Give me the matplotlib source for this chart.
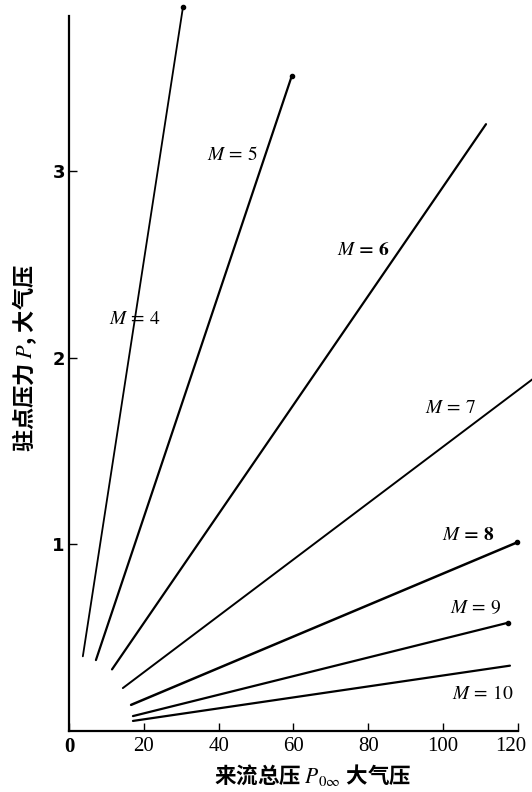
import matplotlib.pyplot as plt

plt.rcParams['font.family'] = ['Noto Sans CJK SC', 'DejaVu Sans']
plt.rcParams['mathtext.fontset'] = 'stix'

# line start / end points: (P0inf, P)
mach = [4, 5, 6, 7, 8, 9, 10]
x_start = [3.7, 7.2, 11.5, 14.4, 16.6, 17.1, 17.1]
y_start = [0.40, 0.38, 0.33, 0.23, 0.14, 0.08, 0.054]
x_end = [30.5, 59.6, 111.5, 125.0, 119.8, 117.4, 117.9]
y_end = [3.88, 3.51, 3.25, 1.90, 1.01, 0.58, 0.35]
widths = [1.3, 1.6, 1.6, 1.4, 1.8, 1.6, 1.6]

# label positions for each Mach number
lab_x = [17.6, 43.6, 78.6, 101.9, 106.7, 108.6, 110.7]
lab_y = [2.21, 3.09, 2.58, 1.73, 1.05, 0.66, 0.20]

xticks = [0, 20, 40, 60, 80, 100, 120]
yticks = [1, 2, 3]

fig = plt.figure(figsize=(5.32, 7.92), dpi=100)
ax = fig.add_axes([0.1297, 0.077, 0.8703, 0.923])

for i in range(len(mach)):
    ax.plot([x_start[i], x_end[i]], [y_start[i], y_end[i]], color='black',
            lw=widths[i], solid_capstyle='round')
    if mach[i] in (4, 5, 8, 9):
        ax.plot(x_end[i], y_end[i], 'o', color='black', ms=3)
    if mach[i] in (6, 8):
        txt = r'$\mathbf{\mathit{M}}\,\mathbf{=}\,\mathbf{%d}$' % mach[i]
    else:
        txt = r'$M\,=\,%d$' % mach[i]
    ax.text(lab_x[i], lab_y[i], txt, fontsize=14, ha='center', va='center')

ax.set_xlim(0, 123.8)
ax.set_ylim(0, 3.915)
ax.spines['right'].set_visible(False)
ax.spines['top'].set_visible(False)
ax.spines['bottom'].set_bounds(0, 120)
ax.spines['left'].set_bounds(0, 3.83)
ax.spines['bottom'].set_linewidth(1.6)
ax.spines['left'].set_linewidth(1.6)

# last x label is drawn by hand, a little left of its tick as in the scan
ax.set_xticks(xticks)
ax.set_xticklabels([str(t) for t in xticks[:-1]] + [''],
                   family='Liberation Serif', fontsize=15)
ax.get_xticklabels()[0].set_fontweight('bold')
ax.annotate(str(xticks[-1]), (xticks[-1], 0), xycoords=('data', 'axes fraction'),
            xytext=(-5, -4), textcoords='offset points', ha='center', va='top',
            family='Liberation Serif', fontsize=15, annotation_clip=False)
ax.set_yticks(yticks)
ax.set_yticklabels([str(t) for t in yticks], family='DejaVu Sans', fontsize=13,
                   fontweight='bold')
ax.tick_params(direction='in', length=6, width=1.0)
ax.tick_params(axis='x', pad=4)
ax.tick_params(axis='y', pad=3)

fig.text(0.588, 0.022, '来流总压 $P_{0\\infty}$ 大气压', ha='center', va='center',
         fontsize=15.5, fontweight='bold')
fig.text(0.047, 0.548, '驻点压力 $P$, 大气压', ha='center', va='center',
         rotation=90, fontsize=16, fontweight='bold')

fig.savefig('out.png', dpi=100)
